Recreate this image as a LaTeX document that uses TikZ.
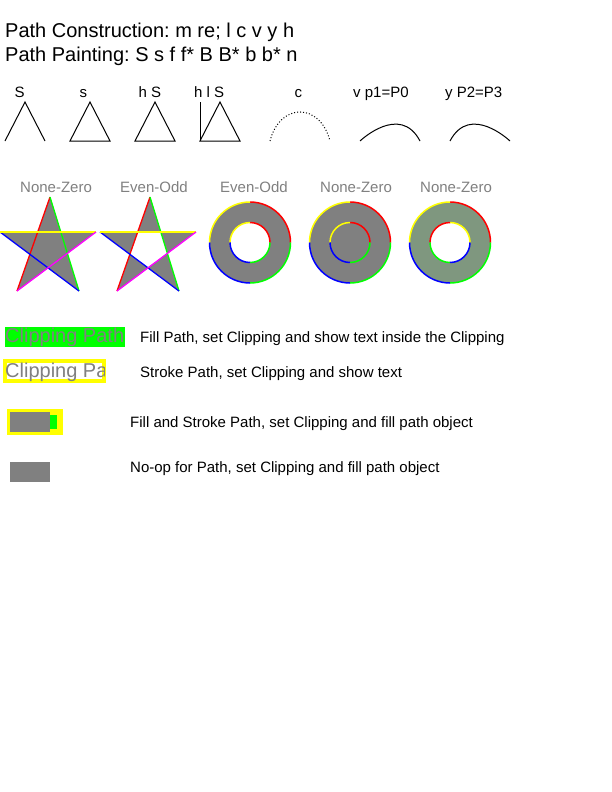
\documentclass[tikz,border=0pt]{standalone}
\usepackage{fontspec}
\setmainfont{Liberation Sans}
\usepackage{tikz}
\frenchspacing
\definecolor{pageGray}{HTML}{808080}
\definecolor{pageGreen}{HTML}{00FF00}
\definecolor{pageYellow}{HTML}{FFFF00}
\definecolor{pageRed}{HTML}{FF0000}
\definecolor{pageBlue}{HTML}{0000FF}
\definecolor{pageMagenta}{HTML}{FF00FF}
\definecolor{pageSage}{HTML}{7F977F}

\begin{document}
\begin{tikzpicture}[x=1bp,y=-1bp,
  heading/.style={anchor=base west,inner sep=0pt,font=\fontsize{20bp}{24bp}\selectfont},
  lbl/.style={anchor=base west,inner sep=0pt,font=\fontsize{15bp}{18bp}\selectfont},
  rulelbl/.style={lbl,text=pageGray},
  cliptext/.style={anchor=base west,inner sep=0pt,text=pageGray,font=\fontsize{20bp}{24bp}\selectfont},
  outline/.style={draw=black,line width=1bp},
  seg/.style={draw=#1,line width=1.3bp},
  arcline/.style={draw=#1,line width=1.5bp}
]
  \path[use as bounding box,fill=white] (0,0) rectangle (612,792);

  \node[heading] (construct) at (5,38) {Path Construction: m re; l c v y h};
  \node[heading] (paint) at (5,61.5) {Path Painting: S s f f* B B* b b* n};

  \node[lbl] (opS) at (14.5,97.5) {S};
  \node[lbl] (ops) at (79.5,97.5) {s};
  \node[lbl] (ophS) at (138.5,97.5) {h S};
  \node[lbl] (ophlS) at (194,97.5) {h l S};
  \node[lbl] (opc) at (294.5,97.5) {c};
  \node[lbl] (opv) at (353,97.5) {v p1=P0};
  \node[lbl] (opy) at (445,97.5) {y P2=P3};

  \draw[outline] (5,141) -- (25,102) -- (45,141);
  \draw[outline] (90,102) -- (110,141) -- (70,141) -- cycle;
  \draw[outline] (155,102) -- (175,141) -- (135,141) -- cycle;
  \draw[outline] (220,102) -- (240,141) -- (200,141) -- cycle;
  \draw[outline] (200,141) -- (200,102);
  \draw[outline,dash pattern=on 1bp off 2bp] (270,141) .. controls (280,102.3) and (320,102.3) .. (330,141);
  \draw[outline] (360,141) .. controls (360,141) and (400,103) .. (420,141);
  \draw[outline] (450,141) .. controls (470,103) and (510,141) .. (510,141);

  \foreach \x/\lab [count=\i] in {20/None-Zero,120/Even-Odd,220/Even-Odd,320/None-Zero,420/None-Zero}
    \node[rulelbl] (rule\i) at (\x,192) {\lab};

  \foreach \dx/\fr in {0/nonzero rule,100/even odd rule} {
    \fill[pageGray,\fr] (17+\dx,291) -- (50+\dx,197) -- (79+\dx,291) -- (0+\dx,232) -- (96+\dx,232) -- cycle;
    \draw[seg=pageRed] (17+\dx,291) -- (50+\dx,197);
    \draw[seg=pageGreen] (50+\dx,197) -- (79+\dx,291);
    \draw[seg=pageBlue] (79+\dx,291) -- (0+\dx,232);
    \draw[seg=pageYellow] (0+\dx,232) -- (96+\dx,232);
    \draw[seg=pageMagenta] (96+\dx,232) -- (17+\dx,291);
  }

  \fill[pageGray,even odd rule] (250,242.5) circle[radius=40.5bp] (250,242.5) circle[radius=20bp];
  \fill[pageGray] (350,242.5) circle[radius=40.5bp] (350,242.5) circle[radius=20bp];
  \fill[pageSage] (450,242.5) circle[radius=40.5bp]
    (470,242.5) arc[start angle=0,end angle=-360,radius=20bp];
  \foreach \cx in {250,350,450}
    \foreach \a/\col in {0/pageRed,90/pageYellow,180/pageBlue,270/pageGreen}
      \draw[arcline=\col] (\cx,242.5) ++(\a:40.5bp) arc[start angle=\a,delta angle=90,radius=40.5bp];
  \foreach \cx in {250,350}
    \foreach \a/\col in {0/pageRed,90/pageYellow,180/pageBlue,270/pageGreen}
      \draw[arcline=\col] (\cx,242.5) ++(\a:20bp) arc[start angle=\a,delta angle=90,radius=20bp];
  \foreach \a/\col in {0/pageYellow,90/pageRed,180/pageGreen,270/pageBlue}
    \draw[arcline=\col] (450,242.5) ++(\a:20bp) arc[start angle=\a,delta angle=90,radius=20bp];

  \fill[pageGreen] (5,327) rectangle (125,347);
  \begin{scope}
    \clip (5,327) rectangle (125,347);
    \node[cliptext] (clipfill) at (5,342) {Clipping Path};
  \end{scope}
  \node[lbl] (fillnote) at (140,342.3) {Fill Path, set Clipping and show text inside the Clipping};

  \draw[pageYellow,line width=4bp] (5,361) rectangle (104,381);
  \begin{scope}
    \clip (5,361) rectangle (104,381);
    \node[cliptext] (clipstroke) at (5,377) {Clipping Pa};
  \end{scope}
  \node[lbl] (strokenote) at (140,377.3) {Stroke Path, set Clipping and show text};

  \fill[pageGreen] (10,412) rectangle (60,432);
  \draw[pageYellow,line width=5.4bp] (10,412) rectangle (60,432);
  \fill[pageGray] (10,412) rectangle (50,432);
  \node[lbl] (bothnote) at (130,427) {Fill and Stroke Path, set Clipping and fill path object};

  \fill[pageGray] (10,462) rectangle (50,482);
  \node[lbl] (noopnote) at (130,472) {No-op for Path, set Clipping and fill path object};
\end{tikzpicture}
\end{document}
